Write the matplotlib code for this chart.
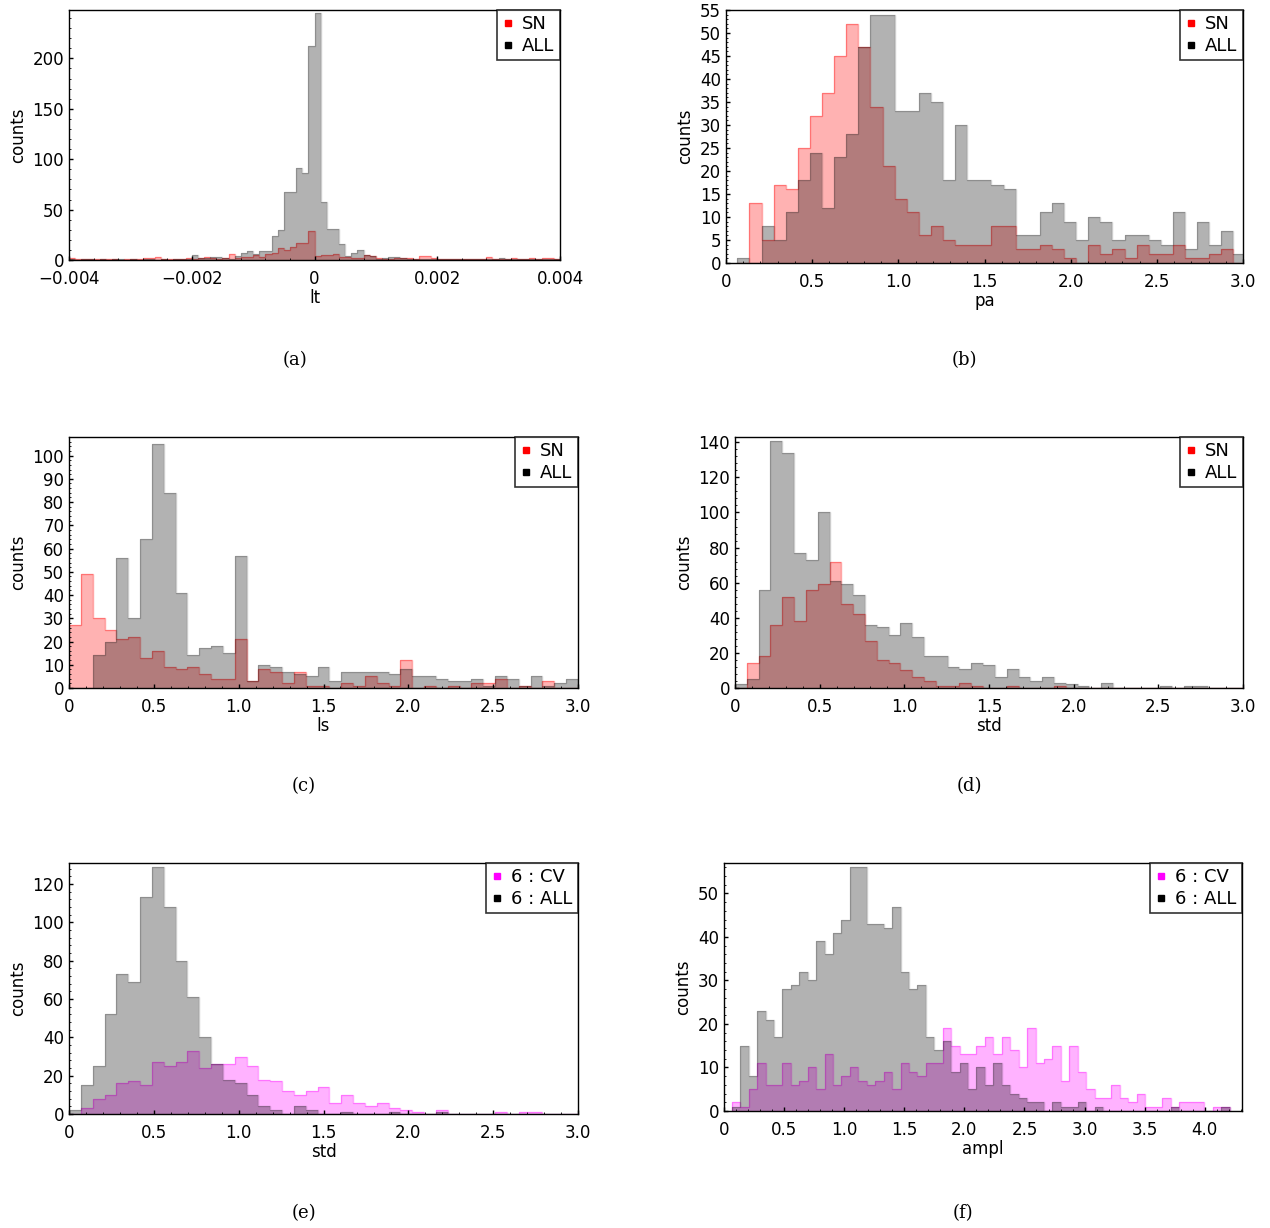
import numpy as np
import matplotlib
matplotlib.use("Agg")
import matplotlib.pyplot as plt
from matplotlib.lines import Line2D
from matplotlib.ticker import AutoMinorLocator

# ---------------- data (bin counts) ----------------
# (a) lt : 80 bins from -0.004 to 0.004
a_start, a_width = -0.004, 0.0001
a_all = [1,0,1,1,0,1,0,1,1,0,1,0,1,1,0,1,0,1,1,1,
         5,2,2,3,3,2,1,4,7,9,6,9,9,24,30,67,67,91,86,212,
         245,58,31,31,16,4,7,10,5,4,1,2,3,3,2,1,1,1,1,1,
         1,1,1,1,1,1,1,1,1,1,2,1,1,1,1,1,1,1,1,1]
a_sn = [2,1,1,1,1,1,1,1,0,1,1,1,2,2,3,1,1,1,1,2,
        1,2,3,2,1,2,6,2,3,3,5,3,6,7,12,10,13,17,17,29,
        4,5,5,6,3,3,2,2,5,4,2,1,1,2,2,2,1,4,4,2,
        1,1,1,1,1,1,1,1,3,1,1,1,2,1,1,2,1,2,2,1]

# (b) pa : 42 bins from 0.066
b_start, b_width = 0.066, 0.0702
b_all = [1,0,8,5,11,18,24,12,23,28,47,54,54,33,33,37,35,18,30,18,18,17,16,6,6,11,13,9,5,10,9,5,6,6,5,4,11,3,9,4,7,2]
b_sn = [0,13,5,17,16,25,32,37,45,52,47,34,21,14,11,6,8,5,4,4,4,8,8,3,3,4,3,1,0,4,2,3,1,4,2,2,4,1,1,2,3,0]

# (c) ls : 43 bins from 0 to 3
c_start, c_width = 0.0, 3/43
c_all = [0,0,14,20,56,30,64,105,84,41,14,17,18,15,57,3,10,9,7,6,5,9,3,7,7,7,7,6,8,5,5,4,3,3,4,1,5,4,1,5,1,2,4]
c_sn = [27,49,30,25,21,22,13,16,9,8,9,6,4,4,21,3,8,7,2,7,1,1,0,2,1,5,2,1,12,0,1,0,1,0,2,2,4,0,1,0,3,0,0]

# (d) std : 43 bins from 0 to 3
d_start, d_width = 0.0, 3/43
d_all = [2,5,56,141,134,77,73,100,61,59,53,36,35,30,37,29,18,18,12,11,14,13,6,11,6,4,6,3,2,1,0,3,0,0,0,0,1,0,1,1,0,0,0]
d_sn = [0,14,18,36,52,38,56,59,72,48,42,27,16,14,10,6,4,1,1,3,1,0,0,1,0,0,0,1,0,0,0,0,0,0,0,0,0,0,0,0,0,0,0]

# (e) std : 43 bins from 0 to 3
e_start, e_width = 0.0, 3/43
e_all = [2,15,25,52,73,69,113,129,108,80,61,40,26,18,16,10,4,2,0,4,2,0,0,1,0,0,0,1,0,0,0,1,0,0,0,0,0,0,0,0,0,0,0]
e_cv = [0,3,8,10,16,17,15,27,25,27,33,24,26,26,30,25,18,17,12,10,12,14,6,10,6,4,6,3,2,1,0,2,0,0,0,0,1,0,1,1,0,0,0]

# (f) ampl : 59 bins from 0.065
f_start, f_width = 0.065, 0.0702
f_all = [1,15,8,23,21,17,28,29,32,30,39,36,41,44,56,56,43,43,42,47,32,28,29,17,14,16,9,11,5,10,6,11,6,4,3,2,2,0,2,1,1,2,0,1,0,0,0,0,0,0,0,0,1,0,0,0,0,0,1]
f_cv = [2,1,5,11,6,6,11,6,7,10,5,13,6,8,10,7,6,7,9,5,11,9,8,11,11,19,15,13,13,15,17,13,17,14,10,19,11,12,15,7,15,9,5,3,3,6,3,2,4,1,1,3,1,2,2,2,0,1,1]

panels = [
    ("(a)", "lt", a_start, a_width, a_all, a_sn, "red", ["SN", "ALL"], (-0.004, 0.004), 248, [-0.004, -0.002, 0, 0.002, 0.004], ["$-0.004$", "$-0.002$", "0", "0.002", "0.004"], [0, 50, 100, 150, 200]),
    ("(b)", "pa", b_start, b_width, b_all, b_sn, "red", ["SN", "ALL"], (0, 3), 55, [0, .5, 1, 1.5, 2, 2.5, 3], ["0", "0.5", "1.0", "1.5", "2.0", "2.5", "3.0"], list(range(0, 56, 5))),
    ("(c)", "ls", c_start, c_width, c_all, c_sn, "red", ["SN", "ALL"], (0, 3), 108, [0, .5, 1, 1.5, 2, 2.5, 3], ["0", "0.5", "1.0", "1.5", "2.0", "2.5", "3.0"], list(range(0, 101, 10))),
    ("(d)", "std", d_start, d_width, d_all, d_sn, "red", ["SN", "ALL"], (0, 3), 143, [0, .5, 1, 1.5, 2, 2.5, 3], ["0", "0.5", "1.0", "1.5", "2.0", "2.5", "3.0"], list(range(0, 141, 20))),
    ("(e)", "std", e_start, e_width, e_all, e_cv, "magenta", ["6 : CV", "6 : ALL"], (0, 3), 131, [0, .5, 1, 1.5, 2, 2.5, 3], ["0", "0.5", "1.0", "1.5", "2.0", "2.5", "3.0"], list(range(0, 121, 20))),
    ("(f)", "ampl", f_start, f_width, f_all, f_cv, "magenta", ["6 : CV", "6 : ALL"], (0, 4.31), 57, [0, .5, 1, 1.5, 2, 2.5, 3, 3.5, 4], ["0", "0.5", "1.0", "1.5", "2.0", "2.5", "3.0", "3.5", "4.0"], list(range(0, 51, 10))),
]

# axes boxes in pixels: left, right, top, bottom
boxes = [(69, 560, 10, 260), (726, 1243, 10, 263),
         (69, 578, 437, 688), (735, 1243, 437, 688),
         (69, 578, 863, 1114), (724, 1242, 863, 1111)]
captions_y = [360, 360, 786, 786, 1213, 1213]

W, H = 1270, 1228
fig = plt.figure(figsize=(W / 100, H / 100), dpi=100)

for (cap, xl, st, wd, allc, spc, col, labels, xlim, ytop, xt, xtl, yt), (l, r, t, b), cy in zip(panels, boxes, captions_y):
    ax = fig.add_axes([l / W, 1 - b / H, (r - l) / W, (b - t) / H])
    edges = st + wd * np.arange(len(allc) + 1)
    ax.stairs(spc, edges, fill=True, color=col, alpha=0.3, lw=0)
    ax.stairs(spc, edges, fill=False, color=col, alpha=0.35, lw=1)
    ax.stairs(allc, edges, fill=True, color="black", alpha=0.3, lw=0)
    ax.stairs(allc, edges, fill=False, color="black", alpha=0.2, lw=1)
    ax.set_xlim(*xlim)
    ax.set_ylim(0, ytop)
    ax.set_xticks(xt)
    ax.set_xticklabels(xtl)
    ax.set_yticks(yt)
    ax.yaxis.set_minor_locator(AutoMinorLocator(5))
    ax.xaxis.set_minor_locator(AutoMinorLocator(5))
    ax.tick_params(direction="in", labelsize=12, length=3, width=1)
    ax.tick_params(axis="x", pad=7)
    ax.tick_params(which="minor", direction="in", length=1.5)
    ax.set_xlabel(xl, fontsize=12, labelpad=1)
    ax.set_ylabel("counts", fontsize=12)
    for s in ax.spines.values():
        s.set_linewidth(1)
    handles = [Line2D([], [], marker="s", ls="", color=col, markersize=4),
               Line2D([], [], marker="s", ls="", color="black", markersize=4)]
    leg = ax.legend(handles, labels, loc="upper right", fontsize=13, frameon=True,
                    fancybox=False, edgecolor="black", borderaxespad=0,
                    handlelength=0.6, handletextpad=0.5, borderpad=0.3, labelspacing=0.2)
    leg.get_frame().set_linewidth(1.2)
    fig.text(((l + r) / 2 - 20) / W, 1 - cy / H, cap, ha="center", va="center",
             fontsize=13, family="DejaVu Serif")

fig.savefig("out.png", dpi=100)
